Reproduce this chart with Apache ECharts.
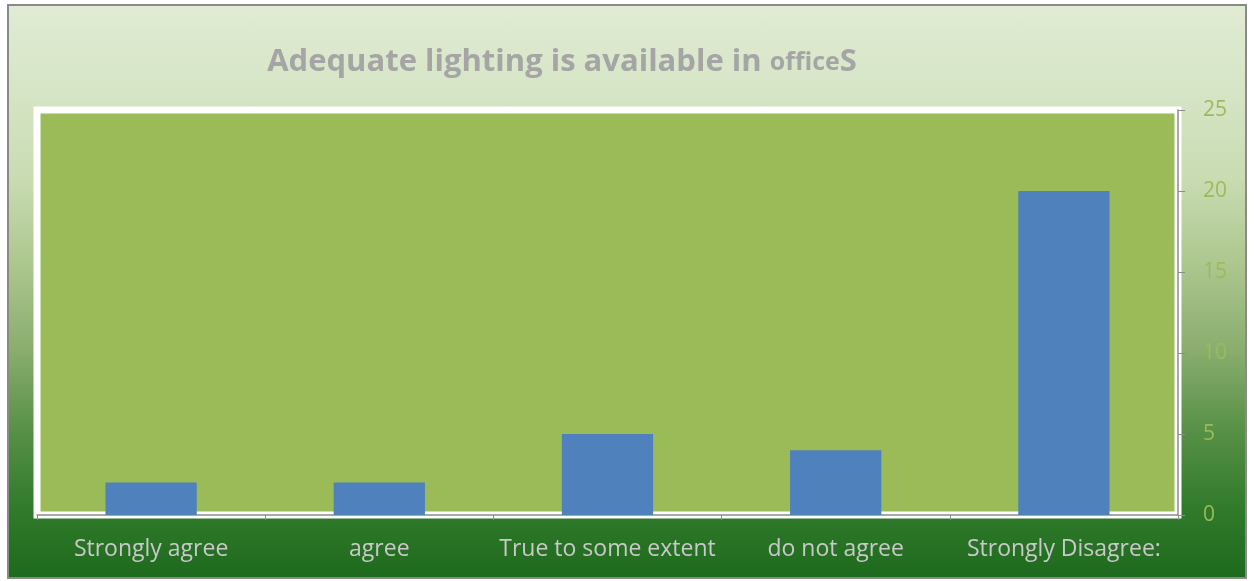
<!DOCTYPE html>
<html>
<head>
<meta charset="utf-8">
<script src="https://cdn.jsdelivr.net/npm/echarts@6/dist/echarts.min.js"></script>
<style>
html,body{margin:0;padding:0;background:#ffffff;}
#frame{position:absolute;left:7px;top:4px;width:1240px;height:575px;box-sizing:border-box;border:2px solid #8a8a8a;
background:linear-gradient(to bottom,#e0ebd3 0%,#d6e5c6 15%,#c9dcb2 30%,#adc78f 45%,#8aae6e 60%,#558f45 75%,#317a2c 88%,#1e6a1c 100%);}
#chart{position:absolute;left:0;top:0;width:1254px;height:581px;}
</style>
</head>
<body>
<div id="frame"></div>
<div id="chart"></div>
<script>
const categories = ["Strongly agree", "agree", "True to some extent", "do not agree", "Strongly Disagree:"];
const values = [2, 2, 5, 4, 20];
const yTicks = { min: 0, max: 25, interval: 5 };

const chart = echarts.init(document.getElementById('chart'), null, { renderer: 'canvas' });
chart.setOption({
  backgroundColor: 'transparent',
  animation: false,
  title: {
    text: '{a|Adequate lighting is available in }{b|office}{a|S}',
    left: 557,
    textAlign: 'center',
    top: 42,
    textStyle: {
      rich: {
        a: { fontFamily: 'Open Sans', fontWeight: 'bold', fontSize: 31, color: '#a5a5a5' },
        b: { fontFamily: 'Open Sans', fontWeight: 'bold', fontSize: 25, color: '#a5a5a5' }
      }
    }
  },
  grid: {
    left: 37, right: 76, top: 110, bottom: 66,
    show: true,
    backgroundColor: '#9bbb59',
    borderColor: '#ffffff',
    borderWidth: 7
  },
  xAxis: {
    type: 'category',
    data: categories,
    axisLine: { show: true, lineStyle: { color: '#8c8c8c', width: 1.5 } },
    axisTick: { show: true, length: 5, lineStyle: { color: '#8c8c8c' } },
    axisLabel: { color: '#c9c9c9', fontFamily: 'Open Sans', fontSize: 23, margin: 23, interval: 0 }
  },
  yAxis: {
    type: 'value',
    position: 'right',
    min: yTicks.min, max: yTicks.max, interval: yTicks.interval,
    axisLine: { show: true, lineStyle: { color: '#8c8c8c', width: 1.5 } },
    axisTick: { show: true, length: 7, lineStyle: { color: '#8c8c8c' } },
    splitLine: { show: false },
    axisLabel: { color: '#9bbb59', fontFamily: 'Open Sans', fontSize: 21, margin: 25, align: 'left' }
  },
  series: [{
    type: 'bar',
    data: values,
    barWidth: '40%',
    itemStyle: { color: '#4f81bd' }
  }]
});
</script>
</body>
</html>
